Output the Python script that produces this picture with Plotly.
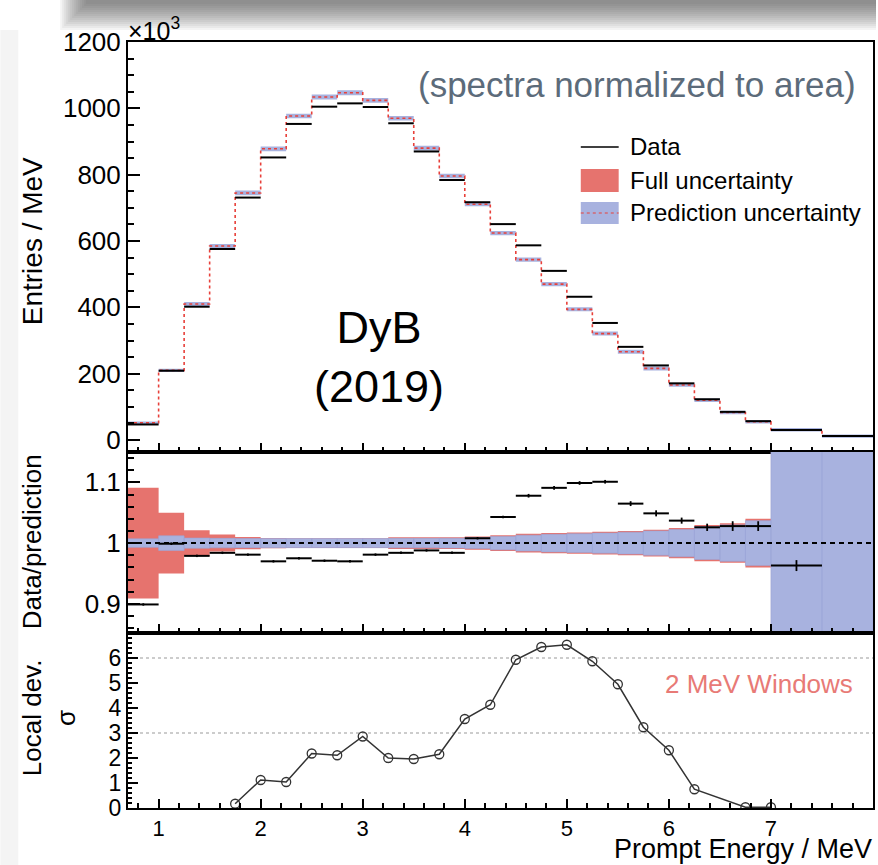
import plotly.graph_objects as go
from plotly.subplots import make_subplots

# ---------------- data ----------------
BIN_EDGES = [0.7, 1.0, 1.25, 1.5, 1.75, 2.0, 2.25, 2.5, 2.75, 3.0, 3.25, 3.5, 3.75,
             4.0, 4.25, 4.5, 4.75, 5.0, 5.25, 5.5, 5.75, 6.0, 6.25, 6.5, 6.75, 7.0, 7.5, 8.0]

# entries / MeV  (x10^3)
PREDICTION = [52, 210, 410, 585, 745, 878, 977, 1034, 1047, 1024, 970, 880, 796, 711,
              624, 544, 470, 394, 321, 266, 216, 166, 120, 83, 55, 31, 12]
DATA = [47, 209, 402, 576, 731, 852, 953, 1005, 1015, 1004, 955, 870, 784, 717,
        651, 587, 510, 432, 353, 281, 225, 171, 123, 85, 57, 30, 12]
TOP_BAND_HALF = [4, 5, 6, 6, 7, 7, 7, 7.5, 7.5, 7.5, 7, 7, 7, 6.5,
                 6.5, 6.5, 6.5, 6, 6, 6, 6, 5.5, 5.5, 5, 5, 5, 5]

# data / prediction
RATIO = [0.899, 0.999, 0.979, 0.984, 0.981, 0.970, 0.975, 0.971, 0.970, 0.981, 0.984,
         0.988, 0.984, 1.008, 1.043, 1.078, 1.091, 1.099, 1.101, 1.065, 1.049, 1.037,
         1.026, 1.028, 1.028, 0.963, None]
RATIO_ERR = [0.002, 0.002, 0.002, 0.002, 0.002, 0.002, 0.002, 0.002, 0.002, 0.002, 0.002,
             0.002, 0.002, 0.002, 0.002, 0.003, 0.003, 0.003, 0.003, 0.004, 0.005, 0.005,
             0.006, 0.008, 0.008, 0.009, None]
FULL_UNC = [0.091, 0.050, 0.021, 0.014, 0.010, 0.0085, 0.008, 0.008, 0.008, 0.008, 0.0095,
            0.0095, 0.0095, 0.011, 0.013, 0.0155, 0.0165, 0.0176, 0.0187, 0.020, 0.022,
            0.025, 0.030, 0.0325, 0.040, 0.30, 0.30]
PRED_UNC = [0.007, 0.012, 0.0083, 0.0078, 0.0075, 0.0075, 0.0075, 0.0075, 0.0075, 0.0075,
            0.0078, 0.0078, 0.008, 0.009, 0.011, 0.013, 0.0145, 0.0155, 0.0165, 0.018,
            0.020, 0.0225, 0.027, 0.030, 0.037, 0.30, 0.30]
RATIO_REF = 1.0

# local deviation (sigma), 2 MeV windows
SIGMA_E = [1.75, 2.0, 2.25, 2.5, 2.75, 3.0, 3.25, 3.5, 3.75, 4.0, 4.25, 4.5, 4.75,
           5.0, 5.25, 5.5, 5.75, 6.0, 6.25, 6.75, 7.0]
SIGMA = [0.17, 1.12, 1.04, 2.18, 2.11, 2.86, 2.0, 1.96, 2.15, 3.56, 4.13, 5.93, 6.44,
         6.53, 5.87, 4.95, 3.23, 2.31, 0.75, 0.03, 0.03]
SIGMA_LINES = [3, 6]

# ---------------- styling ----------------
FONT = "Liberation Sans, Arial, Helvetica, sans-serif"
RED = "#e6736e"
BLUE = "#a8b2df"
W, H = 878, 865
L, R, T, B = 128, 3, 42, 57
PW, PH = W - L - R, H - T - B


def px(x):
    return (x - L) / PW


def py(y):
    return (H - B - y) / PH


lo, hi = BIN_EDGES[:-1], BIN_EDGES[1:]


def segments(vals):
    xs, ys = [], []
    for a, b, v in zip(lo, hi, vals):
        if v is None:
            continue
        xs += [a, b, None]
        ys += [v, v, None]
    return xs, ys


def rects(centers, halves):
    xs, ys = [], []
    for a, b, c, h in zip(lo, hi, centers, halves):
        xs += [a, b, b, a, a, None]
        ys += [c - h, c - h, c + h, c + h, c - h, None]
    return xs, ys


fig = make_subplots(rows=3, cols=1, shared_xaxes=True, vertical_spacing=0)

# ---- top panel ----
bx, by = rects(PREDICTION, TOP_BAND_HALF)
fig.add_trace(go.Scatter(x=bx, y=by, fill="toself", fillcolor=BLUE, mode="lines",
                         line=dict(width=0), hoverinfo="skip"), row=1, col=1)
fig.add_trace(go.Scatter(x=BIN_EDGES, y=PREDICTION + [PREDICTION[-1]], mode="lines",
                         line=dict(color="#e8403a", width=1.6, dash="dot", shape="hv")),
              row=1, col=1)
dx, dy = segments(DATA)
fig.add_trace(go.Scatter(x=dx, y=dy, mode="lines", line=dict(color="black", width=2)),
              row=1, col=1)

# ---- ratio panel ----
ones = [RATIO_REF] * len(lo)
rx, ry = rects(ones, FULL_UNC)
fig.add_trace(go.Scatter(x=rx, y=ry, fill="toself", fillcolor=RED, mode="lines",
                         line=dict(width=0), hoverinfo="skip"), row=2, col=1)
qx, qy = rects(ones, PRED_UNC)
fig.add_trace(go.Scatter(x=qx, y=qy, fill="toself", fillcolor=BLUE, mode="lines",
                         line=dict(width=0.6, color="#9aa5d6"), hoverinfo="skip"), row=2, col=1)
sx, sy = segments(RATIO)
fig.add_trace(go.Scatter(x=sx, y=sy, mode="lines", line=dict(color="black", width=2)),
              row=2, col=1)
cx = [(a + b) / 2 for a, b, v in zip(lo, hi, RATIO) if v is not None]
cy = [v for v in RATIO if v is not None]
ce = [e for e, v in zip(RATIO_ERR, RATIO) if v is not None]
fig.add_trace(go.Scatter(x=cx, y=cy, mode="markers", marker=dict(size=1, color="black"),
                         error_y=dict(type="data", array=ce, visible=True, color="black",
                                      thickness=1.8, width=0)), row=2, col=1)

# ---- sigma panel ----
fig.add_trace(go.Scatter(x=SIGMA_E, y=SIGMA, mode="lines+markers",
                         line=dict(color="#333333", width=1.5),
                         marker=dict(symbol="circle-open", size=9, color="#333333",
                                     line=dict(width=1.3))), row=3, col=1)

fig.update_traces(showlegend=False)

# ---- axes ----
axis_common = dict(showline=True, linecolor="black", linewidth=2, mirror=True,
                   ticks="inside", tickcolor="black", showgrid=False, zeroline=False)
for i in (1, 2, 3):
    fig.update_xaxes(row=i, col=1, range=[0.7, 8], tick0=0, dtick=1, ticklen=9, tickwidth=1.5,
                     minor=dict(ticks="inside", dtick=0.2, tick0=0, ticklen=5, tickcolor="black"),
                     showticklabels=(i == 3), tickfont=dict(size=22, color="black", family=FONT),
                     **axis_common)

fig.update_yaxes(row=1, col=1, domain=[py(452), 1], range=[-36, 1200],
                 tickvals=[0, 200, 400, 600, 800, 1000, 1200], ticklen=12, tickwidth=1.5,
                 minor=dict(ticks="inside", dtick=50, tick0=0, ticklen=6, tickcolor="black"),
                 tickfont=dict(size=26, color="black", family=FONT), **axis_common)
fig.update_yaxes(row=2, col=1, domain=[py(633), py(452)], range=[0.852, 1.15],
                 tickvals=[0.9, 1.0, 1.1], ticktext=["0.9", "1", "1.1"], ticklen=12, tickwidth=1.5,
                 minor=dict(ticks="inside", dtick=0.02, tick0=0.9, ticklen=6, tickcolor="black"),
                 tickfont=dict(size=26, color="black", family=FONT), **axis_common)
fig.update_yaxes(row=3, col=1, domain=[0, py(633)], range=[0, 7],
                 tickvals=[0, 1, 2, 3, 4, 5, 6], ticklen=10, tickwidth=1.5,
                 minor=dict(ticks="inside", dtick=0.2, tick0=0, ticklen=4, tickcolor="black"),
                 tickfont=dict(size=23, color="black", family=FONT), **axis_common)

shapes = []
# reference line at ratio = 1
shapes.append(dict(type="line", xref="x2 domain", yref="y2", x0=0, x1=1,
                   y0=RATIO_REF, y1=RATIO_REF, line=dict(color="black", width=2, dash="5px,4px")))
for v in SIGMA_LINES:
    shapes.append(dict(type="line", xref="x3 domain", yref="y3", x0=0, x1=1, y0=v, y1=v,
                       line=dict(color="#9a9a9a", width=1.2, dash="dot"), layer="below"))

# legend (manual)
shapes.append(dict(type="line", xref="paper", yref="paper", x0=px(582), x1=px(620),
                   y0=py(147), y1=py(147), line=dict(color="black", width=1.5)))
shapes.append(dict(type="rect", xref="paper", yref="paper", x0=px(582), x1=px(620),
                   y0=py(192), y1=py(169), fillcolor=RED, line=dict(width=0)))
shapes.append(dict(type="rect", xref="paper", yref="paper", x0=px(582), x1=px(620),
                   y0=py(224), y1=py(202), fillcolor=BLUE, line=dict(width=0)))
shapes.append(dict(type="line", xref="paper", yref="paper", x0=px(582), x1=px(620),
                   y0=py(213), y1=py(213), line=dict(color="#e8403a", width=1, dash="dot")))

# photo smudge at top and faint left edge (decoration of the reference photo)
for k in range(14):
    hgt = 30 - 2 * k
    shapes.append(dict(type="rect", xref="paper", yref="paper", x0=px(60 + 2 * k), x1=px(W),
                       y0=py(hgt), y1=py(0), fillcolor="#404040", opacity=0.06,
                       line=dict(width=0), layer="below"))
shapes.append(dict(type="rect", xref="paper", yref="paper", x0=px(0), x1=px(18),
                   y0=py(H), y1=py(30), fillcolor="#f4f4f4", line=dict(width=0), layer="below"))

ann = []
ann.append(dict(text="×10<sup>3</sup>", x=px(126), y=py(29), xanchor="left", yanchor="middle",
                font=dict(size=25, color="black", family=FONT)))
ann.append(dict(text="(spectra normalized to area)", x=px(860), y=py(84), xanchor="right",
                yanchor="middle", font=dict(size=35, color="#5c6b7a", family=FONT)))
ann.append(dict(text="DyB<br>(2019)", x=px(380), y=py(357), xanchor="center", yanchor="middle",
                font=dict(size=45, color="black", family=FONT)))
for txt, yy in [("Data", 147), ("Full uncertainty", 180), ("Prediction uncertainty", 213)]:
    ann.append(dict(text=txt, x=px(629), y=py(yy), xanchor="left", yanchor="middle",
                    font=dict(size=24, color="black", family=FONT)))
ann.append(dict(text="2 MeV Windows", x=px(857), y=py(684), xanchor="right", yanchor="middle",
                font=dict(size=26, color="#e87a76", family=FONT)))
ann.append(dict(text="Prompt Energy / MeV", x=px(876), y=py(849), xanchor="right",
                yanchor="middle", font=dict(size=27, color="black", family=FONT)))
ann.append(dict(text="Entries / MeV", x=px(32), y=py(241), textangle=-90, xanchor="center",
                yanchor="middle", font=dict(size=28, color="black", family=FONT)))
ann.append(dict(text="Data/prediction", x=px(32), y=py(542), textangle=-90, xanchor="center",
                yanchor="middle", font=dict(size=26, color="black", family=FONT)))
ann.append(dict(text="Local dev.<br>σ", x=px(49), y=py(718), textangle=-90, xanchor="center",
                yanchor="middle", font=dict(size=26, color="black", family=FONT)))
for a in ann:
    a.update(xref="paper", yref="paper", showarrow=False)

fig.update_layout(width=W, height=H, margin=dict(l=L, r=R, t=T, b=B, pad=0),
                  paper_bgcolor="white", plot_bgcolor="white",
                  font=dict(family=FONT, color="black"),
                  shapes=shapes, annotations=ann, showlegend=False)

fig.write_html("out.html")
